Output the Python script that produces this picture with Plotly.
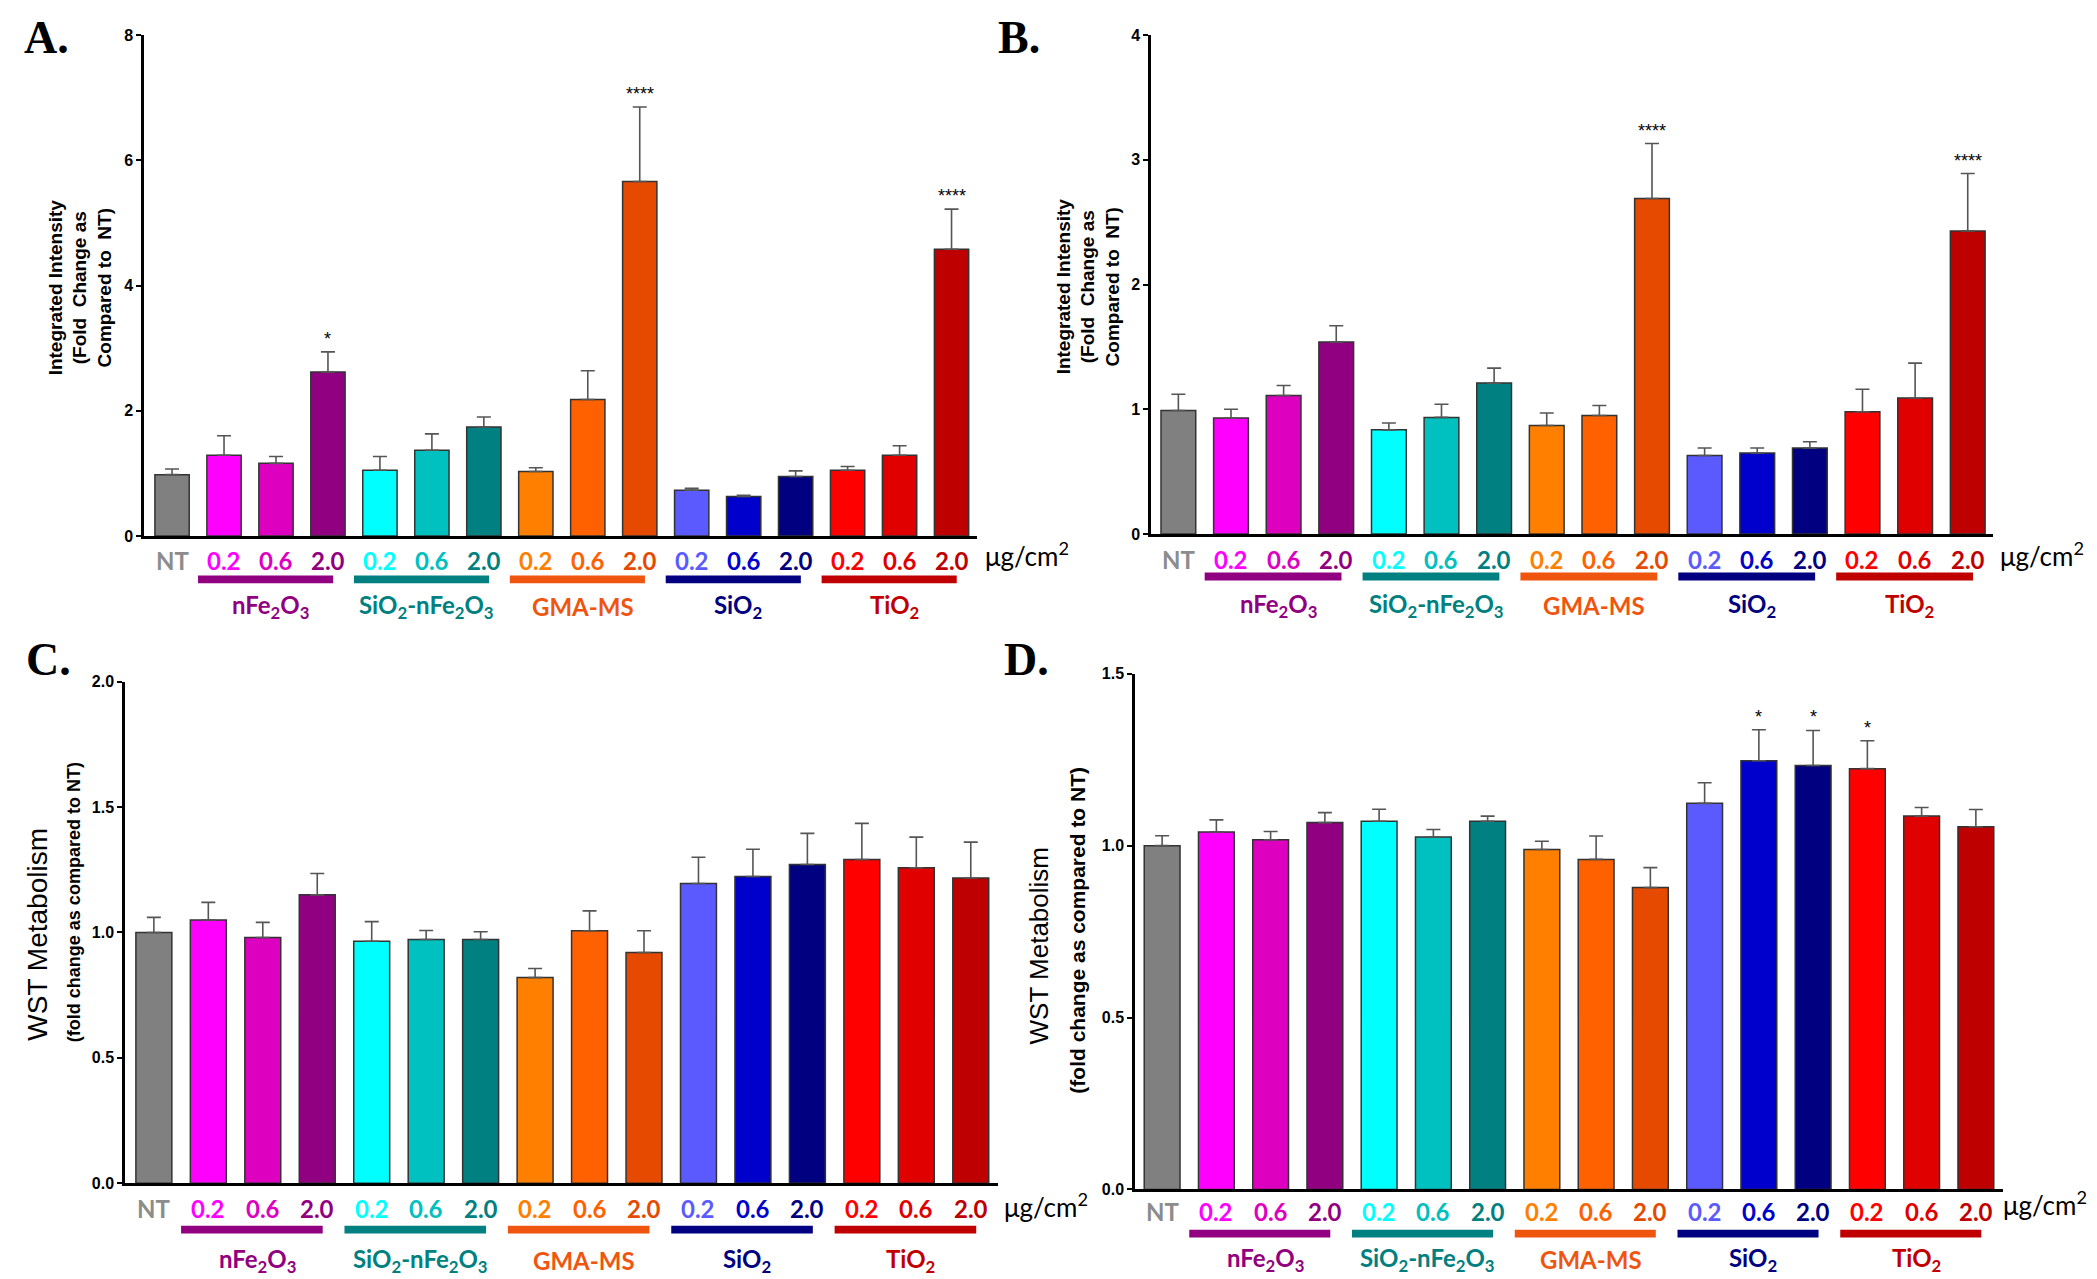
import numpy as np
import plotly.graph_objects as go

# ---------------- data ----------------
categories = ["NT",
              "nFe2O3 0.2", "nFe2O3 0.6", "nFe2O3 2.0",
              "SiO2-nFe2O3 0.2", "SiO2-nFe2O3 0.6", "SiO2-nFe2O3 2.0",
              "GMA-MS 0.2", "GMA-MS 0.6", "GMA-MS 2.0",
              "SiO2 0.2", "SiO2 0.6", "SiO2 2.0",
              "TiO2 0.2", "TiO2 0.6", "TiO2 2.0"]
dose_labels = ["NT", "0.2", "0.6", "2.0", "0.2", "0.6", "2.0", "0.2", "0.6", "2.0",
               "0.2", "0.6", "2.0", "0.2", "0.6", "2.0"]
group_names = ["nFe<sub>2</sub>O<sub>3</sub>", "SiO<sub>2</sub>-nFe<sub>2</sub>O<sub>3</sub>",
               "GMA-MS", "SiO<sub>2</sub>", "TiO<sub>2</sub>"]
group_members = [[1, 2, 3], [4, 5, 6], [7, 8, 9], [10, 11, 12], [13, 14, 15]]

# Panel A: integrated intensity (fold change), mean and top of error bar
a_mean = [0.98, 1.29, 1.16, 2.62, 1.05, 1.37, 1.74, 1.03, 2.18, 5.66, 0.73, 0.63, 0.95, 1.05, 1.29, 4.58]
a_upper = [1.07, 1.60, 1.27, 2.94, 1.27, 1.63, 1.90, 1.09, 2.64, 6.85, 0.76, 0.65, 1.04, 1.11, 1.44, 5.22]
a_sig = ["", "", "", "*", "", "", "", "", "", "****", "", "", "", "", "", "****"]

# Panel B
b_mean = [0.99, 0.93, 1.11, 1.54, 0.835, 0.935, 1.21, 0.87, 0.95, 2.69, 0.63, 0.65, 0.69, 0.98, 1.09, 2.43]
b_upper = [1.12, 1.00, 1.19, 1.67, 0.89, 1.04, 1.33, 0.97, 1.03, 3.13, 0.69, 0.69, 0.74, 1.16, 1.37, 2.89]
b_sig = ["", "", "", "", "", "", "", "", "", "****", "", "", "", "", "", "****"]

# Panel C: WST metabolism
c_mean = [1.00, 1.05, 0.98, 1.15, 0.965, 0.972, 0.972, 0.82, 1.007, 0.92, 1.195, 1.223, 1.271, 1.291, 1.258, 1.217]
c_upper = [1.06, 1.12, 1.04, 1.235, 1.043, 1.008, 1.003, 0.856, 1.086, 1.007, 1.30, 1.332, 1.395, 1.435, 1.38, 1.36]
c_sig = [""] * 16

# Panel D
d_mean = [1.00, 1.04, 1.017, 1.067, 1.071, 1.025, 1.071, 0.989, 0.96, 0.878, 1.123, 1.247, 1.233, 1.224, 1.086, 1.055]
d_upper = [1.029, 1.075, 1.041, 1.096, 1.106, 1.047, 1.086, 1.013, 1.028, 0.936, 1.183, 1.337, 1.335, 1.305, 1.111, 1.105]
d_sig = ["", "", "", "", "", "", "", "", "", "", "", "*", "*", "*", "", ""]

a_ticks = [0, 2, 4, 6, 8]
b_ticks = [0, 1, 2, 3, 4]
c_ticks = [0.0, 0.5, 1.0, 1.5, 2.0]
d_ticks = [0.0, 0.5, 1.0, 1.5]

# ---------------- styles ----------------
bar_colors = ["#808080",
              "#FF00FF", "#DD00BF", "#910080",
              "#00FFFF", "#00C0C0", "#008080",
              "#FF8000", "#FF6000", "#E64A00",
              "#5A5AFF", "#0000CC", "#000080",
              "#FF0000", "#E00000", "#BF0000"]
label_colors = ["#8C8C8C"] + bar_colors[1:]
group_colors = ["#910080", "#008080", "#F0550F", "#000080", "#C00000"]

W, H = 2097, 1279


def px(x):
    return x / W


def py(y):
    return 1 - y / H


panels = [
    dict(mean=a_mean, upper=a_upper, sig=a_sig, ticks=a_ticks, fmt="{:.0f}",
         xpx=(136, 969), ypx=(527, 19.3), xr=[-0.54, 15.49],
         tick_y=552, line_y=571, grp_y=598, unit=(975, 546)),
    dict(mean=b_mean, upper=b_upper, sig=b_sig, ticks=b_ticks, fmt="{:.0f}",
         xpx=(1143, 1985), ypx=(525, 19.3), xr=[-0.52, 15.48],
         tick_y=551, line_y=568, grp_y=597, unit=(1990, 546)),
    dict(mean=c_mean, upper=c_upper, sig=c_sig, ticks=c_ticks, fmt="{:.1f}",
         xpx=(117, 990), ypx=(1183, 674.6), xr=[-0.53, 15.5],
         tick_y=1209, line_y=1230, grp_y=1261, unit=(994, 1206)),
    dict(mean=d_mean, upper=d_upper, sig=d_sig, ticks=d_ticks, fmt="{:.1f}",
         xpx=(1127, 1995), ypx=(1189.3, 666.6), xr=[-0.50, 15.5],
         tick_y=1212, line_y=1234, grp_y=1260, unit=(1993, 1203)),
]

xpos = np.arange(len(categories))
fig = go.Figure()
annotations = []
shapes = []

label_font = "Lato, 'Open Sans', sans-serif"

for i, p in enumerate(panels):
    k = "" if i == 0 else str(i + 1)
    xa, ya = "x" + k, "y" + k
    mean = np.array(p["mean"])
    upper = np.array(p["upper"])
    fig.add_trace(go.Bar(
        x=xpos, y=mean, xaxis=xa, yaxis=ya, width=0.66,
        marker=dict(color=bar_colors, line=dict(color="#333333", width=1.5)),
        error_y=dict(type="data", symmetric=False, array=upper - mean,
                     arrayminus=np.zeros(len(mean)), color="#555555",
                     thickness=1.6, width=7),
        showlegend=False, hoverinfo="skip"))
    top = p["ticks"][-1]
    fig.layout["xaxis" + k] = dict(
        domain=[px(p["xpx"][0]), px(p["xpx"][1])], range=p["xr"], anchor=ya,
        showline=True, linecolor="black", linewidth=2.5, showticklabels=False,
        ticks="", showgrid=False, zeroline=False, fixedrange=True)
    fig.layout["yaxis" + k] = dict(
        domain=[py(p["ypx"][0]), py(p["ypx"][1])], range=[0, top], anchor=xa,
        showline=True, linecolor="black", linewidth=2.5, ticks="outside",
        ticklen=5, tickwidth=2, tickcolor="black", tickvals=p["ticks"],
        ticktext=[p["fmt"].format(t) for t in p["ticks"]],
        tickfont=dict(family="Liberation Sans, Arial", size=16, color="black", weight="bold"),
        showgrid=False, zeroline=False, fixedrange=True)

    # category labels
    for j, lab in enumerate(dose_labels):
        annotations.append(dict(
            x=xpos[j], xref=xa, y=py(p["tick_y"]), yref="paper", text=lab,
            showarrow=False, xanchor="center", yanchor="middle",
            font=dict(family=label_font, size=24, color=label_colors[j], weight="bold")))
    # group bars and names
    for g, members in enumerate(group_members):
        shapes.append(dict(
            type="rect", xref=xa, yref="paper",
            x0=xpos[members[0]] - 0.5, x1=xpos[members[-1]] + 0.1,
            y0=py(p["line_y"] + 4), y1=py(p["line_y"] - 4),
            fillcolor=group_colors[g], line=dict(width=0), layer="above"))
        annotations.append(dict(
            x=xpos[members[1]] - 0.1, xref=xa, y=py(p["grp_y"]), yref="paper",
            text=group_names[g], showarrow=False, xanchor="center", yanchor="middle",
            font=dict(family=label_font, size=24, color=group_colors[g], weight="bold")))
    # unit label
    annotations.append(dict(
        x=px(p["unit"][0]), y=py(p["unit"][1]), xref="paper", yref="paper",
        text="μg/cm<sup>2</sup>", showarrow=False, xanchor="left", yanchor="middle",
        font=dict(family=label_font, size=26, color="black")))
    # significance stars
    for j, s in enumerate(p["sig"]):
        if s:
            annotations.append(dict(
                x=xpos[j], xref=xa, y=upper[j], yref=ya, text=s, showarrow=False,
                xanchor="center", yanchor="bottom", yshift=1,
                font=dict(family="Liberation Sans, Arial", size=18, color="black")))

# y-axis titles
ylab_font = dict(family="Liberation Sans, Arial", size=19, color="black", weight="bold")
annotations.append(dict(x=px(72), y=py(275), xref="paper", yref="paper", textangle=-90,
                        text="Integrated Intensity<br>(Fold  Change as<br>Compared to  NT)",
                        showarrow=False, xanchor="center", yanchor="middle", font=ylab_font))
annotations.append(dict(x=px(1080), y=py(274), xref="paper", yref="paper", textangle=-90,
                        text="Integrated Intensity<br>(Fold  Change as<br>Compared to  NT)",
                        showarrow=False, xanchor="center", yanchor="middle", font=ylab_font))
annotations.append(dict(x=px(30), y=py(1041), xref="paper", yref="paper", textangle=-90,
                        text="WST Metabolism", showarrow=False, xanchor="center", yanchor="bottom",
                        font=dict(family="Liberation Sans, Arial", size=28, color="black")))
annotations.append(dict(x=px(66), y=py(1042), xref="paper", yref="paper", textangle=-90,
                        text="(fold change as compared to NT)", showarrow=False,
                        xanchor="center", yanchor="bottom",
                        font=dict(family="Liberation Sans, Arial", size=18, color="black", weight="bold")))
annotations.append(dict(x=px(1031), y=py(943), xref="paper", yref="paper", textangle=-90,
                        text="WST Metabolism", showarrow=False, xanchor="center", yanchor="middle",
                        font=dict(family="Liberation Sans, Arial", size=26, color="black")))
annotations.append(dict(x=px(1070), y=py(927), xref="paper", yref="paper", textangle=-90,
                        text="(fold change as compared to NT)", showarrow=False,
                        xanchor="center", yanchor="middle",
                        font=dict(family="Liberation Sans, Arial", size=21, color="black", weight="bold")))

# panel letters
letter_font = dict(family="Liberation Serif, Times New Roman", size=46, color="black", weight="bold")
for txt, lx, ly in [("A.", 14, -6), ("B.", 988, -6), ("C.", 16, 624), ("D.", 994, 624)]:
    annotations.append(dict(x=px(lx), y=py(ly), xref="paper", yref="paper", text=txt,
                            showarrow=False, xanchor="left", yanchor="top", font=letter_font))

fig.update_layout(
    width=W, height=H, margin=dict(l=0, r=0, t=0, b=0),
    paper_bgcolor="white", plot_bgcolor="white",
    annotations=annotations, shapes=shapes, bargap=0.3)

fig.write_html("out.html")
